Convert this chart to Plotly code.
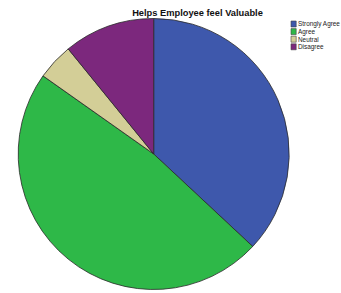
import plotly.graph_objects as go

categories = ["Strongly Agree", "Agree", "Neutral", "Disagree"]
counts = [17, 22, 2, 5]
colors = ["#3E58AC", "#2EB848", "#D3CE97", "#7C287D"]
title_text = "Helps Employee feel Valuable"

W, H = 341, 293
cx, cy, r = 153.7, 154.0, 135.5

fig = go.Figure(go.Pie(
    labels=categories,
    values=counts,
    sort=False,
    direction="clockwise",
    rotation=0,
    textinfo="none",
    hoverinfo="label+value+percent",
    showlegend=False,
    marker=dict(colors=colors, line=dict(color="#2a2a2a", width=0.8)),
    domain=dict(x=[(cx - r) / W, (cx + r) / W], y=[1 - (cy + r) / H, 1 - (cy - r) / H]),
))

# compact legend (SPSS style), drawn as paper-positioned swatches + labels
leg_x0, leg_y0, leg_dy = 291.0, 24.0, 7.6
sw_w, sw_h = 5.2, 6.0
for i, (lab, col) in enumerate(zip(categories, colors)):
    yc = leg_y0 + i * leg_dy
    fig.add_shape(type="rect", xref="paper", yref="paper",
                  x0=leg_x0 / W, x1=(leg_x0 + sw_w) / W,
                  y0=1 - (yc + sw_h / 2) / H, y1=1 - (yc - sw_h / 2) / H,
                  fillcolor=col, line=dict(color="#444", width=0.6))
    fig.add_annotation(xref="paper", yref="paper", x=(leg_x0 + sw_w + 1.0) / W,
                       y=1 - yc / H, text=lab, showarrow=False,
                       xanchor="left", yanchor="middle", borderpad=0,
                       font=dict(size=6.4, color="#222"))

fig.update_layout(
    width=W, height=H,
    margin=dict(l=0, r=0, t=0, b=0),
    paper_bgcolor="white",
    plot_bgcolor="white",
    font=dict(family="Liberation Sans, Arial, sans-serif", color="#000"),
    title=dict(text="<b>" + title_text + "</b>", x=197.5 / W, xanchor="center",
               y=1 - 12.7 / H, yanchor="middle", font=dict(size=9.3, color="#111")),
    showlegend=False,
)

fig.write_html("out.html", config={"displayModeBar": False},
               post_script="document.body.style.margin='0';document.body.style.overflow='hidden';")
